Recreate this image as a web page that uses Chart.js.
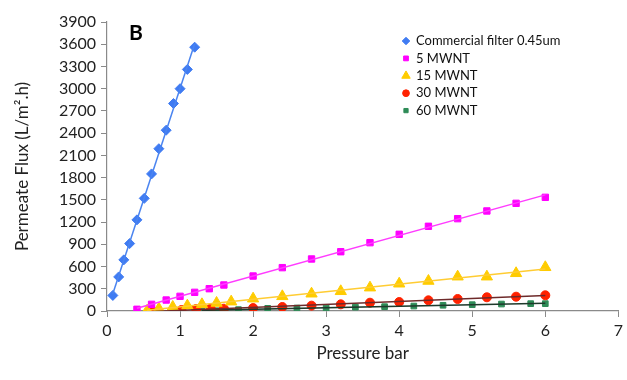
<!DOCTYPE html>
<html>
<head>
<meta charset="utf-8">
<script src="https://cdn.jsdelivr.net/npm/chart.js@4"></script>
<style>
  html, body { margin: 0; padding: 0; background: #fff; }
  #wrap { width: 627px; height: 380px; }
</style>
</head>
<body>
<div id="wrap"><canvas id="fluxChart" width="627" height="380"></canvas></div>
<script>
// data
const commercialX = [0.08, 0.16, 0.23, 0.31, 0.41, 0.51, 0.61, 0.71, 0.81, 0.91, 1.0, 1.1, 1.2];
const commercialY = [210, 460, 690, 910, 1230, 1520, 1850, 2190, 2440, 2800, 3000, 3260, 3560];

const mwnt5X = [0.41, 0.61, 0.81, 1.0, 1.2, 1.4, 1.6, 2.0, 2.4, 2.8, 3.2, 3.6, 4.0, 4.4, 4.8, 5.2, 5.6, 6.0];
const mwnt5Y = [23, 90, 148, 198, 252, 301, 351, 472, 585, 702, 800, 922, 1035, 1143, 1246, 1350, 1453, 1534];

const mwnt15X = [0.55, 0.71, 0.9, 1.1, 1.3, 1.5, 1.7, 2.0, 2.4, 2.8, 3.2, 3.6, 4.0, 4.4, 4.8, 5.2, 5.6, 6.0];
const mwnt15Y = [5, 31, 54, 72, 90, 108, 126, 166, 198, 233, 266, 315, 368, 405, 463, 463, 509, 590];

const mwnt30X = [0.62, 1.02, 1.22, 1.42, 1.6, 2.0, 2.4, 2.8, 3.2, 3.6, 4.0, 4.4, 4.8, 5.2, 5.6, 6.0];
const mwnt30Y = [0, 13, 27, 31, 31, 40, 54, 72, 90, 112, 121, 144, 162, 185, 193, 212];

const mwnt60X = [1.3, 1.5, 1.8, 2.0, 2.2, 2.6, 3.0, 3.4, 3.8, 4.2, 4.6, 5.0, 5.4, 5.8, 6.0];
const mwnt60Y = [4, 4, 18, 27, 36, 40, 40, 52, 58, 67, 77, 85, 94, 99, 99];

const seriesLabels = ['Commercial filter 0.45um', '5 MWNT', '15 MWNT', '30 MWNT', '60 MWNT'];
const xTicks = [0, 1, 2, 3, 4, 5, 6, 7];
const yTicks = [0, 300, 600, 900, 1200, 1500, 1800, 2100, 2400, 2700, 3000, 3300, 3600, 3900];

const FONT = 'Lato, "Open Sans", "Liberation Sans", sans-serif';

// marker + trendline styles per series
const styles = [
    { point: 'rectRot',  radius: 5,   fill: '#3F7BF2', line: '#4A84F0' },
    { point: 'rect',     radius: 4.5, fill: '#FF00FF', line: '#FF3CFF' },
    { point: 'triangle', radius: 6.5, fill: '#FFCC00', line: '#FFCC33' },
    { point: 'circle',   radius: 4.5, fill: '#FF2200', line: '#6E2A2A' },
    { point: 'rect',     radius: 4,   fill: '#2E8B57', line: '#1F3A2C' }
];

const seriesX = [commercialX, mwnt5X, mwnt15X, mwnt30X, mwnt60X];
const seriesY = [commercialY, mwnt5Y, mwnt15Y, mwnt30Y, mwnt60Y];

// least squares fit, like the excel trendline
function trend(xs, ys) {
    const n = xs.length;
    const mx = xs.reduce((a, b) => a + b, 0) / n;
    const my = ys.reduce((a, b) => a + b, 0) / n;
    let sxy = 0, sxx = 0;
    xs.forEach((x, i) => { sxy += (x - mx) * (ys[i] - my); sxx += (x - mx) * (x - mx); });
    const k = sxy / sxx;
    const b = my - k * mx;
    const x0 = Math.min(...xs), x1 = Math.max(...xs);
    return [{ x: x0, y: k * x0 + b }, { x: x1, y: k * x1 + b }];
}

const trendSets = seriesX.map((xs, i) => ({
    type: 'line',
    label: seriesLabels[i] + ' trend',
    data: trend(xs, seriesY[i]),
    borderColor: styles[i].line,
    borderWidth: 1.5,
    pointRadius: 0,
    fill: false
}));

const pointSets = seriesX.map((xs, i) => ({
    type: 'scatter',
    label: seriesLabels[i],
    data: xs.map((x, j) => ({ x: x, y: seriesY[i][j] })),
    pointStyle: styles[i].point,
    pointRadius: styles[i].radius,
    backgroundColor: styles[i].fill,
    borderColor: styles[i].fill,
    borderWidth: 1
}));

// legend inside the plot, top right + panel letter
const extras = {
    id: 'extras',
    afterDraw(chart) {
        const ctx = chart.ctx;
        ctx.save();
        ctx.fillStyle = '#000';
        ctx.font = 'bold 21px ' + FONT;
        ctx.textAlign = 'center';
        ctx.textBaseline = 'middle';
        ctx.fillText('B', 136, 33);

        ctx.font = '13px ' + FONT;
        ctx.textAlign = 'left';
        seriesLabels.forEach((label, i) => {
            const y = 41 + i * 17.4;
            const r = styles[i].radius * 0.75;
            ctx.fillStyle = styles[i].fill;
            ctx.strokeStyle = styles[i].fill;
            Chart.helpers.drawPoint(ctx, { pointStyle: styles[i].point, radius: r, borderWidth: 1 }, 406, y);
            ctx.fillStyle = '#111';
            ctx.fillText(label, 416, y);
        });
        ctx.restore();
    }
};

new Chart(document.getElementById('fluxChart'), {
    data: { datasets: [...trendSets, ...pointSets] },
    options: {
        responsive: false,
        animation: false,
        layout: { padding: { left: 0, top: 22, right: 7, bottom: 0 } },
        plugins: {
            legend: { display: false },
            tooltip: { enabled: false }
        },
        scales: {
            x: {
                type: 'linear',
                min: 0,
                max: 7,
                afterFit: s => { s.height = 69; },
                afterBuildTicks: s => { s.ticks = xTicks.map(v => ({ value: v })); },
                border: { color: '#8a8a8a', width: 1.2 },
                grid: { drawOnChartArea: false, drawTicks: true, tickLength: 6, color: '#8a8a8a' },
                ticks: { color: '#222', font: { family: FONT, size: 16 }, padding: 4, callback: v => String(v) },
                title: {
                    display: true,
                    text: 'Pressure bar',
                    color: '#222',
                    font: { family: FONT, size: 17 },
                    padding: { top: 0, bottom: 16 }
                }
            },
            y: {
                type: 'linear',
                min: 0,
                max: 3900,
                afterFit: s => { s.width = 107; },
                afterBuildTicks: s => { s.ticks = yTicks.map(v => ({ value: v })); },
                border: { color: '#8a8a8a', width: 1.2 },
                grid: { drawOnChartArea: false, drawTicks: true, tickLength: 6, color: '#8a8a8a' },
                ticks: { color: '#222', font: { family: FONT, size: 16 }, padding: 5, callback: v => String(v) },
                title: {
                    display: true,
                    text: 'Permeate Flux (L/m\u00B2.h)',
                    color: '#222',
                    font: { family: FONT, size: 17 },
                    padding: { top: 12, bottom: 0 }
                }
            }
        }
    },
    plugins: [extras]
});
</script>
</body>
</html>
